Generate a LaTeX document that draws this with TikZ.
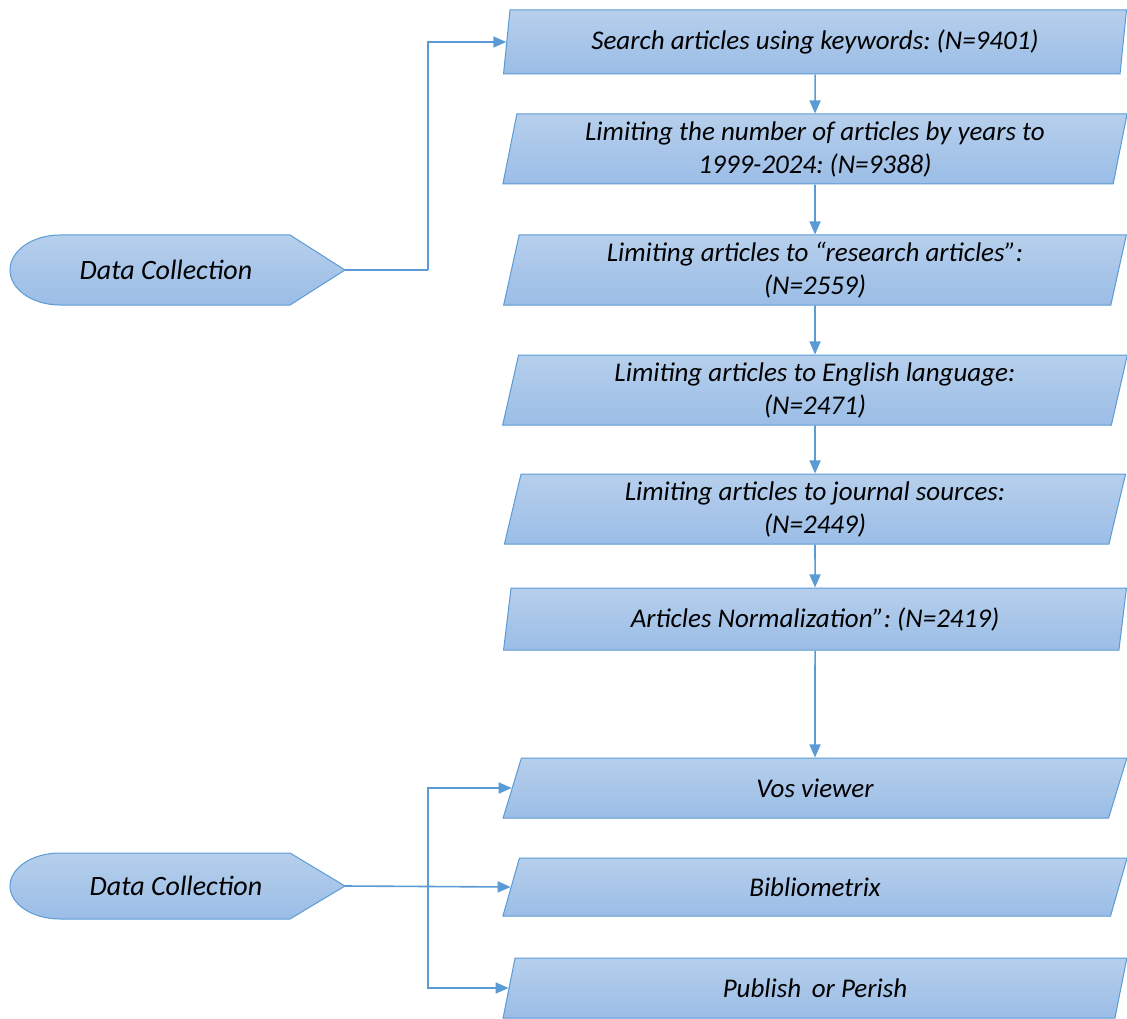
\documentclass[tikz,border=0pt]{standalone}
\usepackage{fontspec}
\setmainfont{Carlito}
\frenchspacing
\usetikzlibrary{shapes.geometric,arrows.meta}
\definecolor{edge}{HTML}{5B9BD5}
\definecolor{ftop}{HTML}{B6CFEC}
\definecolor{fbot}{HTML}{9BBDE6}
\begin{document}
\begin{tikzpicture}[x=1pt,y=-1pt,
  box/.style={trapezium, trapezium left angle=79, trapezium right angle=101,
    trapezium stretches=true, minimum width=625pt, minimum height=66pt,
    draw=edge, line width=1pt, top color=ftop, bottom color=fbot,
    font=\fontsize{27}{33}\selectfont\itshape, align=center, inner sep=0pt},
  dcshape/.style={draw=edge, line width=1pt, top color=ftop, bottom color=fbot},
  dctext/.style={font=\fontsize{28}{33}\selectfont\itshape, inner sep=0pt},
  arr/.style={draw=edge, line width=1.6pt, -{Triangle[length=13pt,width=11pt]}},
  ln/.style={draw=edge, line width=1.6pt}]
\useasboundingbox (0,0) rectangle (1127,1019);

\node[box, minimum height=64pt] (b1) at (815,42) {Search articles using keywords: (N=9401)};
\node[box, minimum height=70pt] (b2) at (815,149) {Limiting the number of articles by years to\\1999-2024: (N=9388)};
\node[box, minimum height=70pt] (b3) at (815,270) {Limiting articles to “research articles”:\\(N=2559)};
\node[box, minimum height=70pt] (b4) at (815,390) {Limiting articles to English language:\\(N=2471)};
\node[box, minimum height=70pt] (b5) at (815,509) {Limiting articles to journal sources:\\(N=2449)};
\node[box, minimum height=62pt] (b6) at (815,619) {Articles Normalization”: (N=2419)};
\node[box, minimum height=60pt] (b7) at (815,788) {Vos viewer};
\node[box, minimum height=58pt] (b8) at (815,887) {Bibliometrix};
\node[box, minimum height=60pt] (b9) at (815,988) {Publish\, or Perish};

% Data collection shapes
\path[dcshape] (60,235) -- (290,235) -- (345,270) -- (290,305) -- (60,305)
  .. controls (32.4,305) and (10,289.3) .. (10,270)
  .. controls (10,250.7) and (32.4,235) .. (60,235) -- cycle;
\path[dcshape] (60,853) -- (290,853) -- (345,886) -- (290,919) -- (60,919)
  .. controls (32.4,919) and (10,904.2) .. (10,886)
  .. controls (10,867.8) and (32.4,853) .. (60,853) -- cycle;
\node[dctext] (dc1) at (166,270) {Data Collection};
\node[dctext] (dc2) at (176,886) {Data Collection};
\coordinate (tip1) at (345,270);
\coordinate (tip2) at (345,886);
\coordinate (j1) at (428,270);
\coordinate (j2) at (428,886);

% connectors
\draw[arr] (b1.south) -- (b2.north);
\draw[arr] (b2.south) -- (b3.north);
\draw[arr] (b3.south) -- (b4.north);
\draw[arr] (b4.south) -- (b5.north);
\draw[arr] (b5.south) -- (b6.north);
\draw[arr] (b6.south) -- (b7.north);

\draw[ln] (tip1) -- (j1);
\draw[arr] (j1) |- (b1.west);
\draw[arr] (tip2) -- (b8.west);
\draw[arr] (j2) |- (b7.west);
\draw[arr] (j2) |- (b9.west);
\end{tikzpicture}
\end{document}
